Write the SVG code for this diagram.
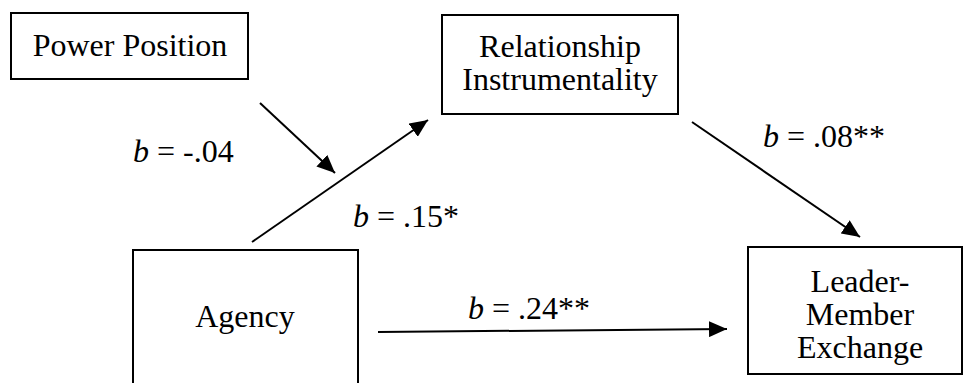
<svg xmlns="http://www.w3.org/2000/svg" width="963" height="383" viewBox="0 0 963 383">
<style>
.box{fill:#fff;stroke:#000;stroke-width:2}
.t{font-family:"Liberation Serif","Times New Roman",serif;font-size:32px;fill:#000}
.c{text-anchor:middle}
.i{font-style:italic}
.ln{stroke:#000;stroke-width:2;fill:none;marker-end:url(#ah)}
</style>
<defs>
<marker id="ah" markerUnits="userSpaceOnUse" markerWidth="20" markerHeight="16" refX="18" refY="8" orient="auto">
<path d="M0,0 L18,8 L0,16 Z" fill="#000"/>
</marker>
</defs>
<rect width="963" height="383" fill="#fff"/>
<g id="power">
<rect class="box" x="11" y="13" width="237" height="66"/>
<text class="t c" x="130" y="56">Power Position</text>
</g>
<g id="ri">
<rect class="box" x="442" y="15" width="236" height="99"/>
<text class="t c" x="560" y="57">Relationship</text>
<text class="t c" x="560" y="90">Instrumentality</text>
</g>
<g id="agency">
<rect class="box" x="133" y="250" width="225" height="140"/>
<text class="t c" x="245" y="327">Agency</text>
</g>
<g id="lmx">
<rect class="box" x="748" y="247" width="214" height="127"/>
<text class="t c" x="860" y="292">Leader-</text>
<text class="t c" x="860" y="325">Member</text>
<text class="t c" x="860" y="358">Exchange</text>
</g>
<g id="connectors">
<line class="ln" x1="260" y1="103" x2="335" y2="173"/>
<line class="ln" x1="252" y1="242" x2="428" y2="120"/>
<line class="ln" x1="692" y1="122" x2="860" y2="237"/>
<line class="ln" x1="378" y1="332" x2="727" y2="329"/>
</g>
<g id="labels">
<text class="t" x="133" y="162"><tspan class="i">b</tspan> = -.04</text>
<text class="t" x="353" y="227"><tspan class="i">b</tspan> = .15*</text>
<text class="t" x="763" y="147"><tspan class="i">b</tspan> = .08**</text>
<text class="t" x="468" y="319"><tspan class="i">b</tspan> = .24**</text>
</g>
</svg>
